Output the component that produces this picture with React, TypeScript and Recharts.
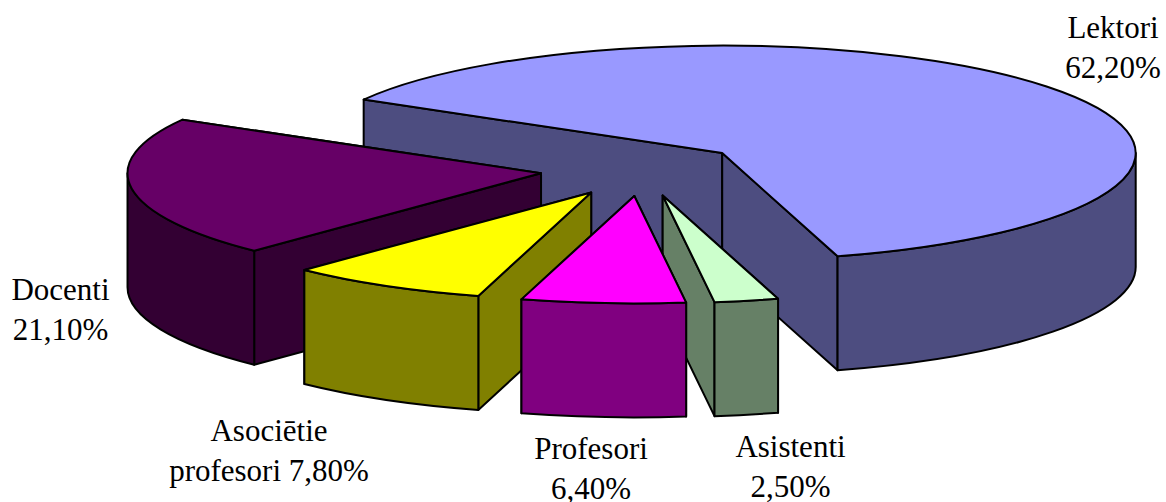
import { PieChart, Pie } from "recharts"

const names = ["Lektori", "Docenti", "Asociētie profesori", "Profesori", "Asistenti"]
const shares = [62.2, 21.1, 7.8, 6.4, 2.5]
const topColors = ["#9999FF", "#660066", "#FFFF00", "#FF00FF", "#CCFFCC"]
const wallColors = ["#4D4D80", "#330033", "#808000", "#800080", "#668066"]

// where each label sits: centre x, first baseline, and how the text breaks
const labelPlacement: Record<string, { x: number; y: number; lines: (v: string) => string[] }> = {
  Lektori: { x: 1113, y: 38, lines: (v) => ["Lektori", v] },
  Docenti: { x: 60.5, y: 300, lines: (v) => ["Docenti", v] },
  "Asociētie profesori": { x: 269, y: 441, lines: (v) => ["Asociētie", `profesori ${v}`] },
  Profesori: { x: 591, y: 459, lines: (v) => ["Profesori", v] },
  Asistenti: { x: 790.5, y: 457, lines: (v) => ["Asistenti", v] },
}

const chartData = names.map((name, i) => ({
  name,
  value: shares[i],
  fill: topColors[i],
  wall: wallColors[i],
}))

const CX = 642
const CY = 169.5
const RX = 413.5
const SQUASH = 0.26 // tilt of the pie: ry / rx
const RY = RX * SQUASH
const DEPTH = 114
const EXPLODE = 102

const formatShare = (v: number) => `${v.toFixed(2).replace(".", ",")}%`

// theta runs clockwise from 12 o'clock, in degrees
const project = (ox: number, oy: number, r: number, theta: number) => {
  const rad = (theta * Math.PI) / 180
  return { x: ox + r * Math.sin(rad), y: oy - r * Math.cos(rad) * SQUASH }
}

const f = (n: number) => n.toFixed(2)

function Slice3D(props: any) {
  const { startAngle, endAngle, payload } = props
  const span = Math.abs(endAngle - startAngle)
  let from = 90 - Math.max(startAngle, endAngle)
  from = ((from % 360) + 360) % 360
  const to = from + span
  const mid = (from + to) / 2
  const apex = project(CX, CY, EXPLODE, mid)
  const a = project(apex.x, apex.y, RX, from)
  const b = project(apex.x, apex.y, RX, to)
  const large = span > 180 ? 1 : 0

  const cutFace = (p: { x: number; y: number }) =>
    `M${f(apex.x)},${f(apex.y)} L${f(p.x)},${f(p.y)} L${f(p.x)},${f(p.y + DEPTH)} L${f(apex.x)},${f(apex.y + DEPTH)} Z`
  // back one first so the nearer cut covers it
  const cuts = a.y < b.y ? [a, b] : [b, a]

  // outer wall only where the rim faces the viewer
  const fronts: [number, number][] = []
  for (const [lo, hi] of [[90, 270], [450, 630]]) {
    const s = Math.max(lo, from)
    const e = Math.min(hi, to)
    if (e > s) fronts.push([s, e])
  }

  const line = { stroke: "#000", strokeWidth: 2, strokeLinejoin: "round" as const }

  return (
    <g>
      {cuts.map((p, i) => (
        <path key={i} d={cutFace(p)} fill={payload.wall} {...line} />
      ))}
      {fronts.map(([s, e], i) => {
        const p = project(apex.x, apex.y, RX, s)
        const q = project(apex.x, apex.y, RX, e)
        return (
          <path
            key={i}
            d={`M${f(p.x)},${f(p.y)} A${RX},${f(RY)} 0 0 1 ${f(q.x)},${f(q.y)} L${f(q.x)},${f(q.y + DEPTH)} A${RX},${f(RY)} 0 0 0 ${f(p.x)},${f(p.y + DEPTH)} Z`}
            fill={payload.wall}
            {...line}
          />
        )
      })}
      <path
        d={`M${f(apex.x)},${f(apex.y)} L${f(a.x)},${f(a.y)} A${RX},${f(RY)} 0 ${large} 1 ${f(b.x)},${f(b.y)} Z`}
        fill={payload.fill}
        {...line}
      />
    </g>
  )
}

// Profesori has to sit over Asistenti, so it gets its own pie on top
const backSlice = (props: any) => (props.payload.name === "Profesori" ? <g /> : <Slice3D {...props} />)
const frontSlice = (props: any) => (props.payload.name === "Profesori" ? <Slice3D {...props} /> : <g />)

const renderLabel = (props: any) => {
  const place = labelPlacement[props.name]
  const lines = place.lines(formatShare(props.value))
  return (
    <text
      key={props.name}
      x={place.x}
      y={place.y}
      textAnchor="middle"
      fontFamily="'Liberation Serif', serif"
      fontSize={31}
      fill="#000"
    >
      {lines.map((t, i) => (
        <tspan key={i} x={place.x} dy={i === 0 ? 0 : 40}>
          {t}
        </tspan>
      ))}
    </text>
  )
}

const pieAngles = { startAngle: -73.8, endAngle: 286.2 }

export default function App() {
  return (
    <div style={{ position: "absolute", left: 0, top: 0, width: 1166, height: 502, background: "#fff" }}>
      <PieChart width={1166} height={502} margin={{ top: 0, right: 0, bottom: 0, left: 0 }}>
        <Pie
          data={chartData}
          dataKey="value"
          nameKey="name"
          cx={CX}
          cy={CY}
          outerRadius={RX}
          {...pieAngles}
          shape={backSlice}
          label={renderLabel}
          labelLine={false}
          isAnimationActive={false}
        />
        <Pie
          data={chartData}
          dataKey="value"
          nameKey="name"
          cx={CX}
          cy={CY}
          outerRadius={RX}
          {...pieAngles}
          shape={frontSlice}
          label={false}
          labelLine={false}
          isAnimationActive={false}
        />
      </PieChart>
    </div>
  )
}
